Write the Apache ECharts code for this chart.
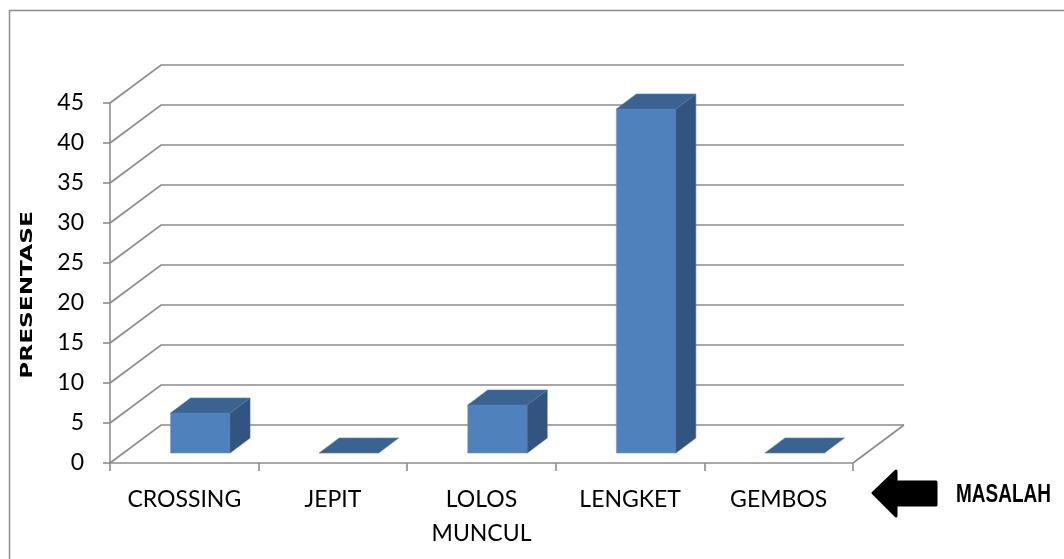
<!DOCTYPE html>
<html>
<head>
<meta charset="utf-8">
<script src="https://cdn.jsdelivr.net/npm/echarts@6/dist/echarts.min.js"></script>
<style>
html,body{margin:0;padding:0;background:#fff;}
#chart{width:1064px;height:559px;}
</style>
</head>
<body>
<div id="chart"></div>
<script>
const categories = ['CROSSING', 'JEPIT', 'LOLOS\nMUNCUL', 'LENGKET', 'GEMBOS'];
const values = [5, 0, 6, 43, 0];
const yTicks = [0, 5, 10, 15, 20, 25, 30, 35, 40, 45];
const yTitle = 'PRESENTASE';
const xTitle = 'MASALAH';

const GRID = '#8c8c8c';
const DEPTH_X = 51, DEPTH_Y = -38;

const chart = echarts.init(document.getElementById('chart'), null, {renderer: 'canvas'});

const option = {
  animation: false,
  backgroundColor: '#ffffff',
  grid: {left: 110, right: 211, top: 103, bottom: 96, containLabel: false},
  xAxis: {
    type: 'category',
    data: categories,
    boundaryGap: true,
    axisLine: {show: true, lineStyle: {color: GRID, width: 1.6}},
    axisTick: {show: true, alignWithLabel: false, length: 8, lineStyle: {color: GRID, width: 1.6}},
    axisLabel: {color: '#000', fontFamily: 'Lato, "Open Sans", sans-serif', fontSize: 23, margin: 20, lineHeight: 34, interval: 0},
    splitLine: {show: false}
  },
  yAxis: {
    type: 'value',
    min: 0, max: 45, interval: 5,
    axisLine: {show: true, lineStyle: {color: GRID, width: 1.6}},
    axisTick: {show: true, inside: false, length: 7, lineStyle: {color: GRID, width: 1.6}},
    axisLabel: {color: '#000', fontFamily: 'Lato, "Open Sans", sans-serif', fontSize: 23, margin: 26},
    splitLine: {show: false}
  },
  graphic: [
    {type: 'rect', silent: true, shape: {x: 9.5, y: 10.5, width: 1200, height: 700},
     style: {fill: 'none', stroke: '#8c8c8c', lineWidth: 1.5}, z: 0},
    {type: 'text', silent: true, x: 28, y: 295, rotation: Math.PI / 2, scaleX: 1.55, scaleY: 1,
     style: {text: yTitle, fill: '#000', font: 'bold 15px "DejaVu Sans", sans-serif', textAlign: 'center', textVerticalAlign: 'middle', verticalAlign: 'middle'}},
    {type: 'polygon', silent: true,
     shape: {points: [[873, 493], [896, 471], [896, 482], [936, 482], [936, 505], [896, 505], [896, 516]]},
     style: {fill: '#000', stroke: '#000', lineWidth: 3, lineJoin: 'round'}},
    {type: 'text', silent: true, x: 956, y: 495, scaleX: 0.76, scaleY: 1,
     style: {text: xTitle, fill: '#000', font: 'bold 25px "Liberation Sans", Arial, sans-serif', textAlign: 'left', verticalAlign: 'middle', textVerticalAlign: 'middle'}}
  ],
  series: [
    {
      type: 'custom',
      name: 'walls',
      silent: true,
      clip: false,
      z: 1,
      encode: {x: 0, y: 1},
      data: yTicks.map(v => [0, v]),
      renderItem: function (params, api) {
        const cs = params.coordSys;
        const v = api.value(1);
        const y = api.coord([0, v])[1];
        const children = [{
          type: 'polyline',
          shape: {points: [[cs.x, y], [cs.x + DEPTH_X, y + DEPTH_Y], [cs.x + cs.width + DEPTH_X, y + DEPTH_Y]]},
          style: {stroke: GRID, lineWidth: 1.6, fill: 'none'}
        }];
        if (v === 0) {
          children.push({
            type: 'line',
            shape: {x1: cs.x + cs.width, y1: y, x2: cs.x + cs.width + DEPTH_X, y2: y + DEPTH_Y},
            style: {stroke: GRID, lineWidth: 1.6}
          });
        }
        return {type: 'group', children: children};
      }
    },
    {
      type: 'custom',
      name: 'bars',
      clip: false,
      z: 3,
      encode: {x: 0, y: 1},
      data: values.map((v, i) => [i, v]),
      renderItem: function (params, api) {
        const i = api.value(0), v = api.value(1);
        const base = api.coord([i, 0]);
        const top = api.coord([i, v]);
        const band = api.size([1, 0])[0];
        const hw = band * 0.2;
        const ox = 16, oy = -10, dx = 20, dy = -15;
        const xl = base[0] + ox - hw, xr = base[0] + ox + hw;
        const yb = base[1] + oy, yt = top[1] + oy;
        const children = [];
        if (v > 0) {
          children.push({
            type: 'polygon',
            shape: {points: [[xl, yb], [xr, yb], [xr, yt], [xl, yt]]},
            style: {fill: '#4f81bd', stroke: '#6d97c9', lineWidth: 0.6}
          });
          children.push({
            type: 'polygon',
            shape: {points: [[xr, yb], [xr + dx, yb + dy], [xr + dx, yt + dy], [xr, yt]]},
            style: {fill: '#33547e', stroke: '#4a6a94', lineWidth: 0.6}
          });
        }
        children.push({
          type: 'polygon',
          shape: {points: [[xl, yt], [xr, yt], [xr + dx, yt + dy], [xl + dx, yt + dy]]},
          style: {fill: '#3b6392', stroke: '#5479a6', lineWidth: 0.6}
        });
        return {type: 'group', children: children};
      }
    }
  ]
};
chart.setOption(option);
</script>
</body>
</html>
